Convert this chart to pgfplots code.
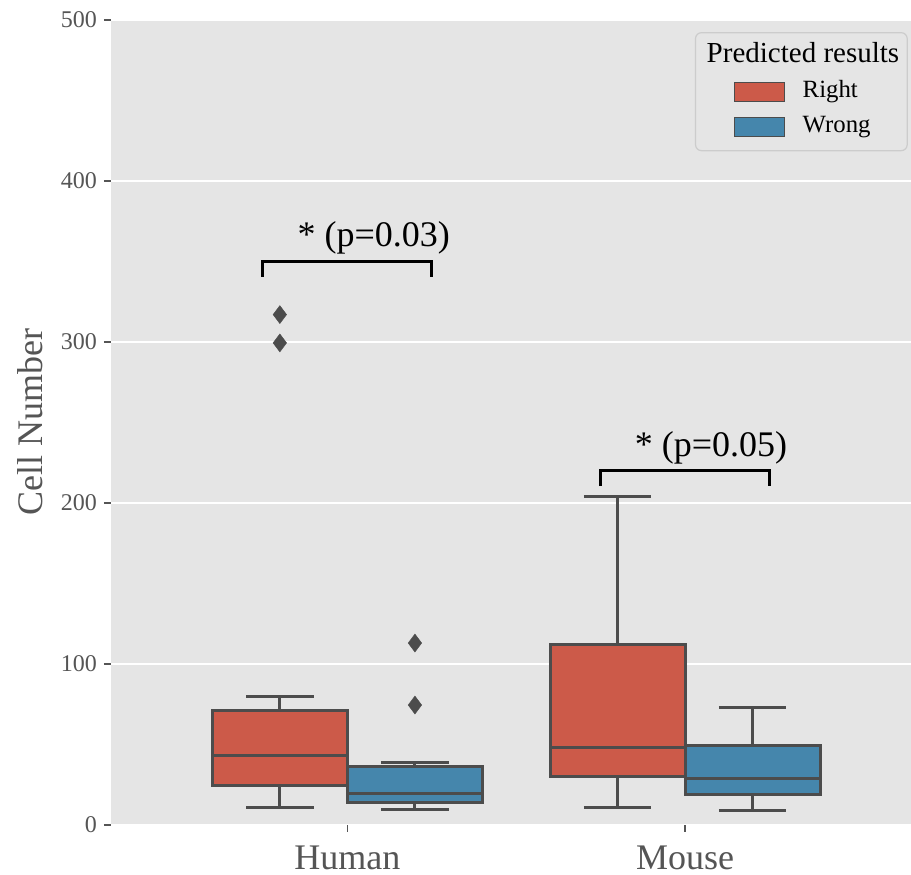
\documentclass[border=0pt]{standalone}
\usepackage{fontspec}
\setmainfont{Liberation Serif}
\usepackage{pgfplots}
\pgfplotsset{compat=1.18}
\usetikzlibrary{plotmarks}

\definecolor{bg}{HTML}{E5E5E5}
\definecolor{rightred}{HTML}{CC5A49}
\definecolor{wrongblue}{HTML}{4586AC}
\definecolor{edge}{HTML}{4C4C4C}
\definecolor{tickgray}{HTML}{555555}
\definecolor{legborder}{HTML}{CCCCCC}

\pgfplotsset{
  swatchred/.style={legend image code/.code={%
    \path (-15pt,0pt);
    \draw[sharp corners, line width=0.6pt, draw=edge, fill=rightred] (0pt,-4.75pt) rectangle (25pt,4.75pt);}},
  swatchblue/.style={legend image code/.code={%
    \path (-15pt,0pt);
    \draw[sharp corners, line width=0.6pt, draw=edge, fill=wrongblue] (0pt,-4.75pt) rectangle (25pt,4.75pt);}},
  boxline/.style={draw=edge, line width=1.5pt, no marks, line join=miter},
}

\begin{document}
\begin{tikzpicture}
\begin{axis}[
  scale only axis, width=400pt, height=402.5pt,
  xmin=-0.7, xmax=1.669, ymin=0, ymax=500,
  xtick={0,1}, xticklabels={Human,Mouse},
  ytick={0,100,...,500},
  axis background/.style={fill=bg},
  axis line style={draw=none},
  ymajorgrids, grid style={white, line width=1pt},
  tick align=outside, major tick length=3.5pt,
  major tick style={tickgray, line width=0.8pt},
  tick pos=left,
  /pgf/number format/assume math mode=true,
  yticklabel style={font=\fontsize{12}{14}\selectfont, text=tickgray},
  xticklabel style={font=\fontsize{18}{20}\selectfont, text=tickgray, yshift=-3.5pt},
  ylabel={Cell Number},
  ylabel style={font=\fontsize{18}{20}\selectfont, text=tickgray,
    at={(axis description cs:-0.101,0.5)}, anchor=center},
  unbounded coords=jump,
  legend cell align=left,
  legend style={
    at={(0.996,0.985)}, anchor=north east,
    fill=bg, draw=legborder, line width=0.6pt, rounded corners=3pt,
    inner xsep=4pt, inner ysep=6pt,
    nodes={inner sep=0pt, text height=9pt, text depth=3pt},
    column sep=9pt, row sep=5.5pt,
    font=\fontsize{12.4}{14}\selectfont,
  },
]
\addlegendimage{empty legend}
\addlegendentry{\hspace*{-48pt}\fontsize{14.5}{16}\selectfont Predicted results}
\addlegendimage{swatchred}
\addlegendentry{Right}
\addlegendimage{swatchblue}
\addlegendentry{Wrong}

% whiskers: stem from quartile to whisker end, then the cap
\addplot[boxline] coordinates {
  (-0.2,24.8) (-0.2,10.8) (nan,nan) (-0.3,10.8) (-0.1,10.8) (nan,nan)
  (-0.2,70.8) (-0.2,80) (nan,nan) (-0.3,80) (-0.1,80) (nan,nan)
  (0.2,14.1) (0.2,9.7) (nan,nan) (0.1,9.7) (0.3,9.7) (nan,nan)
  (0.2,36.6) (0.2,38.7) (nan,nan) (0.1,38.7) (0.3,38.7) (nan,nan)
  (0.8,30) (0.8,10.8) (nan,nan) (0.7,10.8) (0.9,10.8) (nan,nan)
  (0.8,111.8) (0.8,203.9) (nan,nan) (0.7,203.9) (0.9,203.9) (nan,nan)
  (1.2,19) (1.2,8.7) (nan,nan) (1.1,8.7) (1.3,8.7) (nan,nan)
  (1.2,49.3) (1.2,72.7) (nan,nan) (1.1,72.7) (1.3,72.7)
};
% boxes (quartiles)
\addplot[boxline, fill=rightred] coordinates {(-0.4,24.8) (0,24.8) (0,70.8) (-0.4,70.8)} -- cycle;
\addplot[boxline, fill=wrongblue] coordinates {(0,14.1) (0.4,14.1) (0.4,36.6) (0,36.6)} -- cycle;
\addplot[boxline, fill=rightred] coordinates {(0.6,30) (1,30) (1,111.8) (0.6,111.8)} -- cycle;
\addplot[boxline, fill=wrongblue] coordinates {(1,19) (1.4,19) (1.4,49.3) (1,49.3)} -- cycle;
% medians
\addplot[boxline] coordinates {
  (-0.4,42.9) (0,42.9) (nan,nan) (0,19.7) (0.4,19.7) (nan,nan)
  (0.6,48) (1,48) (nan,nan) (1,28.8) (1.4,28.8)
};
% outliers
\addplot[only marks, mark=diamond*, mark size=4.5pt,
  mark options={fill=edge, draw=edge, line width=0.2pt}]
  coordinates {(-0.2,317) (-0.2,299.4) (0.2,113) (0.2,74.5)};

% significance brackets
\draw[black, line width=1.5pt] (axis cs:-0.25,340.5) -- (axis cs:-0.25,350)
  -- (axis cs:0.25,350) -- (axis cs:0.25,340.5);
\node[anchor=base, font=\fontsize{18}{20}\selectfont] at (axis cs:0.078,359) {* (p=0.03)};
\draw[black, line width=1.5pt] (axis cs:0.75,210.5) -- (axis cs:0.75,220)
  -- (axis cs:1.25,220) -- (axis cs:1.25,210.5);
\node[anchor=base, font=\fontsize{18}{20}\selectfont] at (axis cs:1.077,229) {* (p=0.05)};
\end{axis}
\pgfresetboundingbox
\path[use as bounding box] ([xshift=-55.5pt,yshift=-25pt]current axis.south west)
  rectangle ([yshift=10pt]current axis.north east);
\end{tikzpicture}
\end{document}
